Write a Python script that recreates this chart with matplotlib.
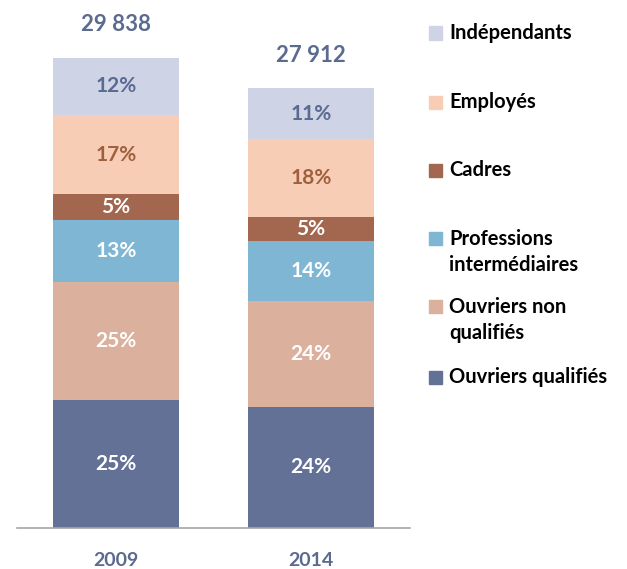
import numpy as np
import matplotlib.pyplot as plt
from matplotlib.patches import Rectangle

plt.rcParams['font.family'] = ['Lato', 'DejaVu Sans']

years = ['2009', '2014']
totals = ['29 838', '27 912']
categories = ['Ouvriers qualifiés', 'Ouvriers non\nqualifiés', 'Professions\nintermédiaires',
              'Cadres', 'Employés', 'Indépendants']
# effectifs (bas -> haut)
vals_2009 = [8120, 7505, 3933, 1611, 5031, 3635]
vals_2014 = [7695, 6725, 3806, 1504, 4948, 3216]
pct_2009 = ['25%', '25%', '13%', '5%', '17%', '12%']
pct_2014 = ['24%', '24%', '14%', '5%', '18%', '11%']

colors = ['#647196', '#dbb09c', '#7fb6d3', '#a3664e', '#f8cdb5', '#ced3e6']
txt_colors = ['white', 'white', 'white', 'white', '#a0603f', '#5a6a91']
blue_txt = '#5b6a8f'

data = np.array([vals_2009, vals_2014]).T
pcts = [pct_2009, pct_2014]

fig = plt.figure(figsize=(6.27, 5.69), dpi=100)
ax = fig.add_axes([0.027, 0.072, 0.627, 0.928])

x = np.arange(len(years))
bottom = np.zeros(len(years))
for i in range(len(categories)):
    ax.bar(x, data[i], 0.646, bottom=bottom, color=colors[i], edgecolor='none')
    for j in range(len(years)):
        ax.text(x[j], bottom[j] + data[i][j] / 2, pcts[j][i], ha='center', va='center',
                color=txt_colors[i], fontsize=15, fontweight='bold')
    bottom = bottom + data[i]

for j in range(len(years)):
    ax.annotate(totals[j], (x[j], bottom[j]), xytext=(0, 24), textcoords='offset points',
                ha='center', va='center', color=blue_txt, fontsize=16, fontweight='bold')

ax.set_xlim(-0.508, 1.508)
ax.set_ylim(0, 33500)
ax.set_xticks(x)
ax.set_xticklabels(years, fontsize=14, fontweight='bold', color=blue_txt)
ax.tick_params(axis='x', length=0, pad=17)
ax.set_yticks([])
for s in ['top', 'right', 'left']:
    ax.spines[s].set_visible(False)
ax.spines['bottom'].set_color('#a6a6a6')
ax.spines['bottom'].set_linewidth(1.2)

# légende manuelle
leg_y = [33, 102, 170, 252, 320, 377]
order = [5, 4, 3, 2, 1, 0]
W, H = 627, 569
for k, i in enumerate(order):
    yc = leg_y[k]
    fy = 1 - yc / H
    lines = categories[i].count('\n')
    first = yc - lines * 13.5
    fig.patches.append(Rectangle((429 / W, 1 - (first + 6.5) / H), 13 / W, 13 / H,
                                 transform=fig.transFigure, color=colors[i]))
    fig.text(449 / W, fy, categories[i], ha='left', va='center', fontsize=14.5,
             fontweight='bold', color='black', linespacing=1.33)

fig.savefig('out.png', dpi=100)
